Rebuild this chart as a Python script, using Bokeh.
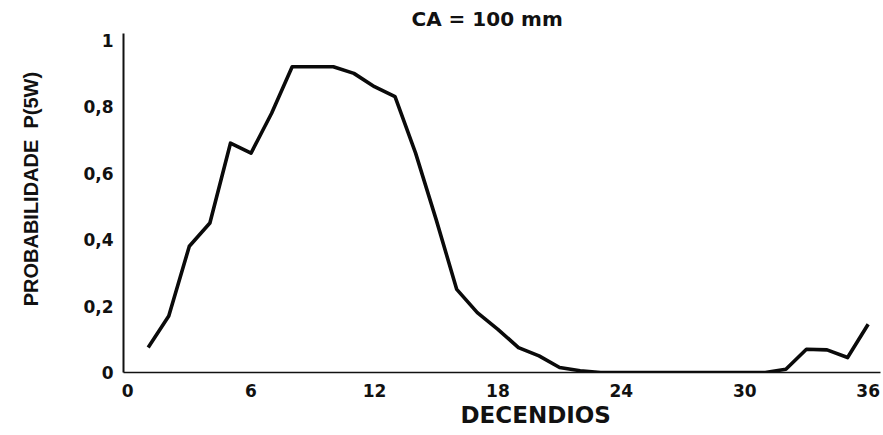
from bokeh.plotting import figure
from bokeh.models import Range1d, FixedTicker, Title
from bokeh.embed import file_html
from bokeh.resources import INLINE

# Probability P(5W) per ten-day period (decendio), soil water capacity 100 mm
decendios = list(range(1, 37))
prob = [0.075, 0.17, 0.38, 0.45, 0.69, 0.66, 0.78, 0.92, 0.92, 0.92,
        0.90, 0.86, 0.83, 0.66, 0.46, 0.25, 0.18, 0.13, 0.075, 0.05,
        0.015, 0.005, 0.0, 0.0, 0.0, 0.0, 0.0, 0.0, 0.0, 0.0,
        0.0, 0.01, 0.07, 0.068, 0.045, 0.145]

x_ticks = [0, 6, 12, 18, 24, 30, 36]
y_ticks = [0, 0.2, 0.4, 0.6, 0.8, 1.0]
y_tick_labels = ["0", "0,2", "0,4", "0,6", "0,8", "1"]

INK = "#111111"
NBSP = "\u00a0"

p = figure(width=883, height=435, output_backend="svg", toolbar_location=None,
           x_range=Range1d(-0.2, 36.6), y_range=Range1d(0, 1.02),
           min_border_left=123, min_border_right=3,
           min_border_top=33, min_border_bottom=63)

p.outline_line_color = None
p.grid.visible = False
p.background_fill_color = "white"
p.border_fill_color = "white"

p.line(decendios, prob, line_color="#0a0a0a", line_width=3.6, line_join="round")

# axes
p.xaxis.ticker = FixedTicker(ticks=x_ticks)
p.yaxis.ticker = FixedTicker(ticks=y_ticks)
p.yaxis.major_label_overrides = {t: s for t, s in zip(y_ticks, y_tick_labels)}
for ax in (p.xaxis, p.yaxis):
    ax.major_tick_line_color = None
    ax.minor_tick_line_color = None
    ax.axis_line_color = INK
    ax.major_label_text_font = "DejaVu Sans"
    ax.major_label_text_font_style = "bold"
    ax.major_label_text_font_size = "17px"
    ax.major_label_text_color = INK
p.xaxis.axis_line_width = 1.5
p.yaxis.axis_line_width = 2
p.xaxis.major_label_standoff = 5
p.yaxis.major_label_standoff = 4

# y axis title; the leading no-break spaces lift it a little above the frame centre
p.yaxis.axis_label = NBSP * 5 + "PROBABILIDADE" + NBSP * 2 + "P(5W)"
p.yaxis.axis_label_standoff = 38
p.yaxis.axis_label_text_font = "Liberation Sans"
p.yaxis.axis_label_text_font_style = "bold"
p.yaxis.axis_label_text_font_size = "20px"
p.yaxis.axis_label_text_color = INK

# chart title
p.title = Title(text="CA = 100 mm", align="left", offset=288, standoff=6,
                text_font="DejaVu Sans", text_font_style="bold",
                text_font_size="20px", text_color=INK)

# x axis title
p.add_layout(Title(text="DECENDIOS", align="left", offset=337, standoff=0,
                   text_font="DejaVu Sans", text_font_style="bold",
                   text_font_size="23px", text_color=INK), "below")

open("out.html", "w").write(file_html(p, INLINE))
